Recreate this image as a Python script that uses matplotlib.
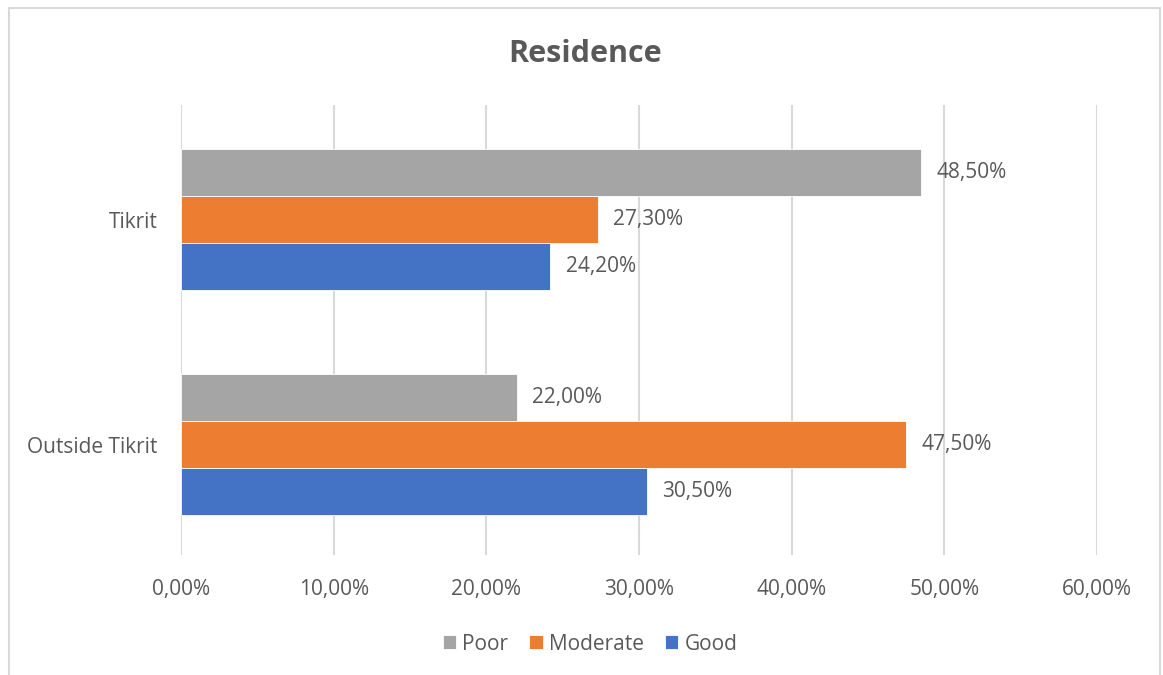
import numpy as np
import matplotlib
matplotlib.use("Agg")
import matplotlib.pyplot as plt
from matplotlib.patches import Rectangle

plt.rcParams['font.family'] = ['Open Sans', 'DejaVu Sans']

# data
categories = ['Outside Tikrit', 'Tikrit']
series = ['Poor', 'Moderate', 'Good']
poor = [22.0, 48.5]
moderate = [47.5, 27.3]
good = [30.5, 24.2]
colors = ['#A5A5A5', '#ED7D31', '#4472C4']
ticks = [0, 10, 20, 30, 40, 50, 60]

txt = '#595959'
fs = 15

fig = plt.figure(figsize=(11.63, 6.75), dpi=100)
ax = fig.add_axes([181 / 1163, 1 - 555 / 675, (1097 - 181) / 1163, 450 / 675])

y = np.arange(len(categories))
h = 0.209
offsets = [h, 0, -h]
for vals, off, col, name in zip([poor, moderate, good], offsets, colors, series):
    bars = ax.barh(y + off, vals, height=h, color=col, label=name,
                   edgecolor='white', linewidth=0.6, zorder=3)
    for b, v in zip(bars, vals):
        ax.text(v + 1.0, b.get_y() + b.get_height() / 2,
                f'{v:.2f}%'.replace('.', ','), va='center', ha='left',
                fontsize=fs, color=txt, zorder=4)

ax.set_xlim(0, 60)
ax.set_ylim(-0.49, 1.51)
ax.set_xticks(ticks)
ax.set_xticklabels([f'{t:.2f}%'.replace('.', ',') for t in ticks])
ax.set_yticks(y)
ax.set_yticklabels(categories)
ax.tick_params(length=0, labelsize=fs, labelcolor=txt)
ax.tick_params(axis='x', pad=17)
ax.tick_params(axis='y', pad=17)
ax.grid(axis='x', color='#D9D9D9', linewidth=1.5, zorder=0)
for s in ax.spines.values():
    s.set_visible(False)

fig.text(585 / 1163, 1 - 54 / 675, 'Residence', ha='center', va='center',
         fontsize=22, fontweight='bold', color=txt)

handles, labels = ax.get_legend_handles_labels()
fig.legend(handles, labels, loc='center', bbox_to_anchor=(590 / 1163, 1 - 644 / 675),
           ncol=3, frameon=False, fontsize=fs, labelcolor=txt,
           handlelength=0.65, handleheight=0.65, handletextpad=0.3,
           columnspacing=1.0)

fig.add_artist(Rectangle((9 / 1163, -0.02), (1160 - 9) / 1163, 1.02 - 8 / 675,
                         transform=fig.transFigure, fill=False,
                         edgecolor='#D9D9D9', linewidth=1.5))

fig.savefig('out.png', dpi=100)
